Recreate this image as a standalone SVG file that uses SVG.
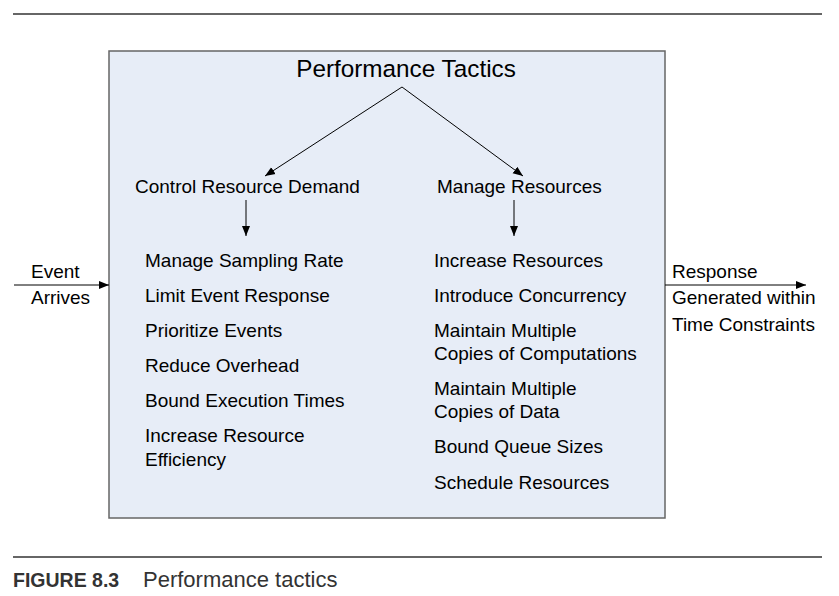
<svg xmlns="http://www.w3.org/2000/svg" width="839" height="596" viewBox="0 0 839 596">
<defs>
<marker id="ah" viewBox="0 0 10 10" refX="10" refY="5" markerWidth="10" markerHeight="10" markerUnits="userSpaceOnUse" orient="auto">
<path d="M0,1 L10,5 L0,9 Z" fill="#000"/>
</marker>
</defs>
<style>
text{font-family:"Liberation Sans",Arial,sans-serif;fill:#000}
.t{font-size:19px}
.h{font-size:24.3px}
.c{fill:#333}
.cn{stroke:#000;stroke-width:1;fill:none;marker-end:url(#ah)}
</style>
<rect width="839" height="596" fill="#fff"/>
<line x1="13" y1="14" x2="822" y2="14" stroke="#333" stroke-width="1.5"/>
<line x1="13" y1="557" x2="822" y2="557" stroke="#333" stroke-width="1.5"/>
<g id="box"><rect x="109" y="51" width="556" height="467" fill="#e7edf7" stroke="#666" stroke-width="1.5"/></g>
<g id="title"><text class="h" x="406" y="77" text-anchor="middle">Performance Tactics</text></g>
<g id="control"><text class="t" x="135" y="193">Control Resource Demand</text></g>
<g id="manage"><text class="t" x="437" y="193">Manage Resources</text></g>
<g id="left-list">
<text class="t" x="145" y="267">Manage Sampling Rate</text>
<text class="t" x="145" y="302">Limit Event Response</text>
<text class="t" x="145" y="337">Prioritize Events</text>
<text class="t" x="145" y="372">Reduce Overhead</text>
<text class="t" x="145" y="407">Bound Execution Times</text>
<text class="t" x="145" y="442">Increase Resource</text>
<text class="t" x="145" y="466">Efficiency</text>
</g>
<g id="right-list">
<text class="t" x="434" y="267">Increase Resources</text>
<text class="t" x="434" y="302">Introduce Concurrency</text>
<text class="t" x="434" y="337">Maintain Multiple</text>
<text class="t" x="434" y="360">Copies of Computations</text>
<text class="t" x="434" y="395">Maintain Multiple</text>
<text class="t" x="434" y="418">Copies of Data</text>
<text class="t" x="434" y="453">Bound Queue Sizes</text>
<text class="t" x="434" y="489">Schedule Resources</text>
</g>
<g id="event"><text class="t" x="31" y="278">Event</text><text class="t" x="31" y="304">Arrives</text></g>
<g id="response"><text class="t" x="672" y="278">Response</text><text class="t" x="672" y="304">Generated within</text><text class="t" x="672" y="331">Time Constraints</text></g>
<g id="connectors">
<line class="cn" x1="402" y1="87" x2="265" y2="176"/>
<line class="cn" x1="402" y1="87" x2="523" y2="176"/>
<line class="cn" x1="246" y1="200" x2="246" y2="236"/>
<line class="cn" x1="514" y1="200" x2="514" y2="236"/>
<line class="cn" x1="14" y1="285" x2="109" y2="285"/>
<line class="cn" x1="665" y1="285" x2="806" y2="285"/>
</g>
<g id="caption"><text class="c" x="13" y="587" font-size="19.5" font-weight="bold">FIGURE 8.3</text><text class="c" x="143" y="587" font-size="22">Performance tactics</text></g>
</svg>
